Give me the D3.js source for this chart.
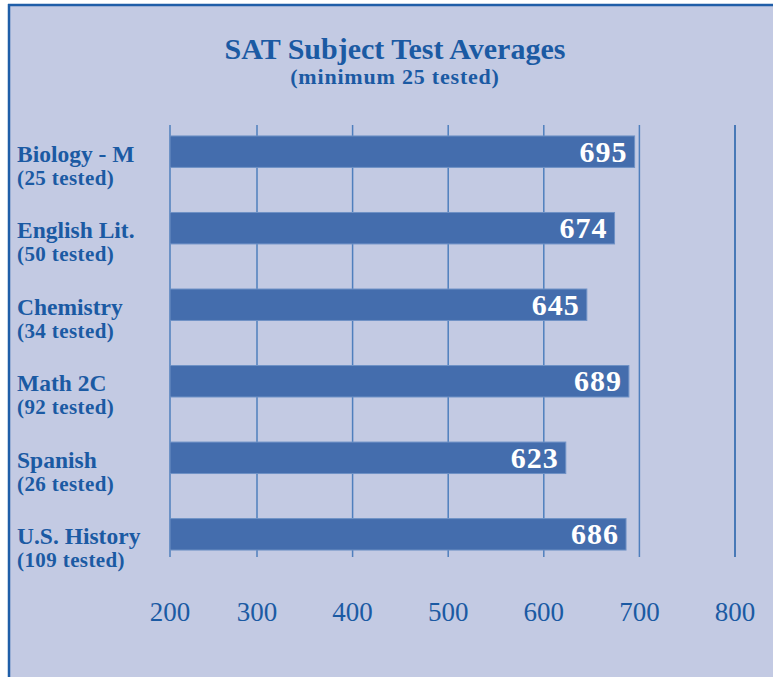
<!DOCTYPE html>
<meta charset="utf-8">
<script src="https://d3js.org/d3.v7.min.js"></script>
<style>
  body { margin: 0; background: #fff; }
  text { font-family: "Liberation Serif", "DejaVu Serif", serif; }
</style>
<div id="chart"></div>
<script>
    // data
    var subjects = ["Biology - M", "English Lit.", "Chemistry", "Math 2C", "Spanish", "U.S. History"];
    var tested = ["(25 tested)", "(50 tested)", "(34 tested)", "(92 tested)", "(26 tested)", "(109 tested)"];
    var averages = [695, 674, 645, 689, 623, 686];
    var ticks = [200, 300, 400, 500, 600, 700, 800];

    var W = 773, H = 677;
    var ink = "#1b5aa3";

    var svg = d3.select("#chart").append("svg")
        .attr("width", W)
        .attr("height", H);

    // panel + border
    svg.append("rect").attr("x", 0).attr("y", 0).attr("width", W).attr("height", H).attr("fill", "#fff");
    svg.append("rect").attr("x", 9).attr("y", 5).attr("width", W).attr("height", H)
        .attr("fill", "#c3cae3");
    svg.append("line").attr("x1", 9).attr("x2", 9).attr("y1", 4).attr("y2", H)
        .attr("stroke", "#1f5ea8").attr("stroke-width", 2.5);
    svg.append("line").attr("x1", 8).attr("x2", W).attr("y1", 5).attr("y2", 5)
        .attr("stroke", "#1f5ea8").attr("stroke-width", 2.5);

    // title
    svg.append("text").attr("x", 395).attr("y", 59)
        .attr("text-anchor", "middle").attr("fill", ink)
        .style("font-size", "30px").style("font-weight", "bold")
        .text("SAT Subject Test Averages");
    svg.append("text").attr("x", 395).attr("y", 84)
        .attr("text-anchor", "middle").attr("fill", ink)
        .style("font-size", "22px").style("font-weight", "bold")
        .style("letter-spacing", "0.8px")
        .text("(minimum 25 tested)");

    // scales (the 200 line sits a bit right of a straight 300-800 scale)
    var x = d3.scaleLinear().domain([200, 300, 800]).range([170, 257, 735]);
    var y = d3.scaleBand().domain(subjects).range([113, 573]).paddingInner(0.589).paddingOuter(0.3);

    // grid lines
    svg.selectAll(".grid").data(ticks).enter().append("line")
        .attr("x1", function(d){ return x(d) })
        .attr("x2", function(d){ return x(d) })
        .attr("y1", 125).attr("y2", 557)
        .attr("stroke", function(d){ return d == 800 ? "#1f5ea8" : "#4f7fbd" })
        .attr("stroke-width", 1.5);

    // axis tick labels
    svg.selectAll(".tick").data(ticks).enter().append("text")
        .attr("x", function(d){ return x(d) })
        .attr("y", 621)
        .attr("text-anchor", "middle").attr("fill", ink)
        .style("font-size", "27px")
        .text(function(d){ return d });

    // bars
    var data = subjects.map(function(s, i){ return {name: s, tested: tested[i], value: averages[i]} });

    svg.selectAll(".bar").data(data).enter().append("rect")
        .attr("x", x(200))
        .attr("y", function(d){ return y(d.name) })
        .attr("width", function(d){ return x(d.value) - x(200) })
        .attr("height", y.bandwidth())
        .attr("fill", "#446dad")
        .attr("stroke", "#6f92c6").attr("stroke-width", 1);

    // values in bars
    svg.selectAll(".val").data(data).enter().append("text")
        .attr("x", function(d){ return x(d.value) - 7 })
        .attr("y", function(d){ return y(d.name) + y.bandwidth() / 2 + 10 })
        .attr("text-anchor", "end").attr("fill", "#fff")
        .style("font-size", "30px").style("font-weight", "bold")
        .style("letter-spacing", "1px")
        .text(function(d){ return d.value });

    // category labels
    svg.selectAll(".name").data(data).enter().append("text")
        .attr("x", 17)
        .attr("y", function(d){ return y(d.name) + y.bandwidth() / 2 + 10 })
        .attr("fill", ink)
        .style("font-size", "23.5px").style("font-weight", "bold")
        .text(function(d){ return d.name });
    svg.selectAll(".cnt").data(data).enter().append("text")
        .attr("x", 17)
        .attr("y", function(d){ return y(d.name) + y.bandwidth() / 2 + 33 })
        .attr("fill", ink)
        .style("font-size", "21px").style("font-weight", "bold")
        .style("letter-spacing", "0.4px")
        .text(function(d){ return d.tested });
</script>
